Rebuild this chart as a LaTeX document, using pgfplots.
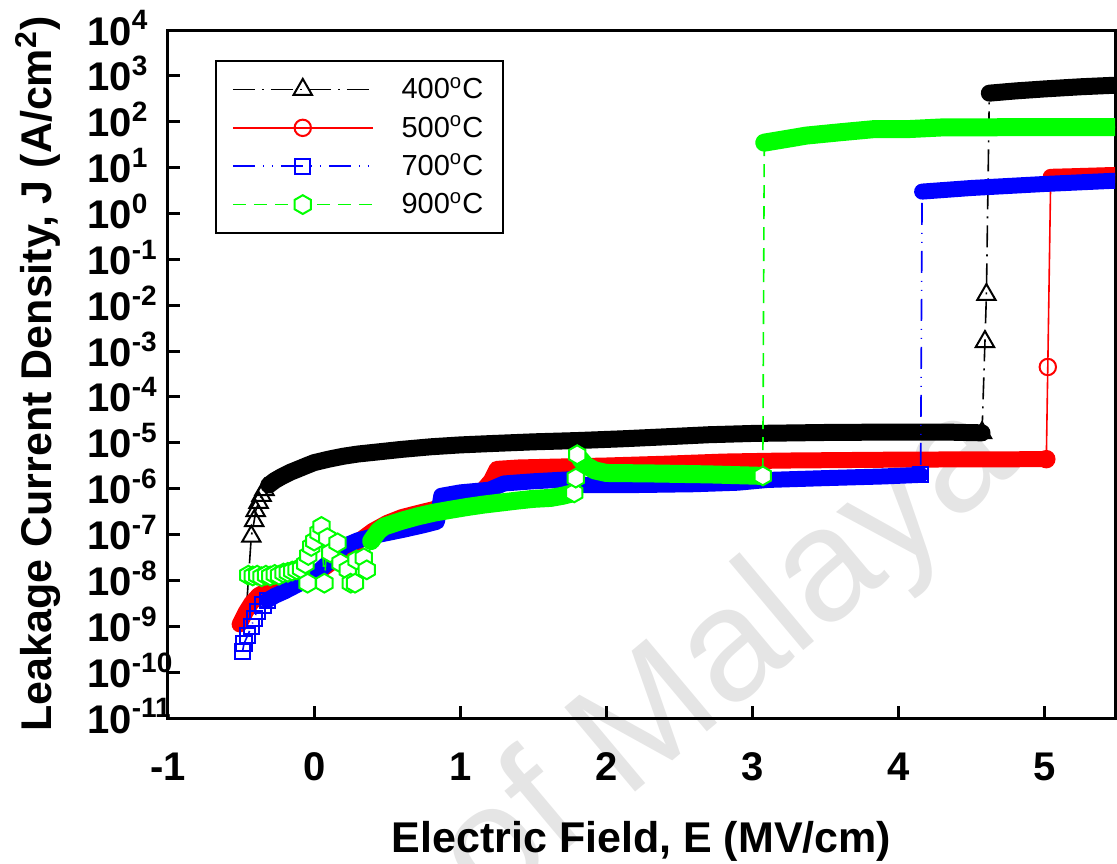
\documentclass[border=0pt]{standalone}
\usepackage{fontspec}
\setmainfont{Liberation Sans}
\usepackage{pgfplots}
\usepackage{pgfplotstable}
\pgfplotsset{compat=1.18}
\usetikzlibrary{plotmarks}

\definecolor{cRed}{HTML}{FF0000}
\definecolor{cBlue}{HTML}{0000FF}
\definecolor{cGreen}{HTML}{00FF00}

% pointy-top hexagon, open
\pgfdeclareplotmark{hexagon}{%
  \pgfpathmoveto{\pgfqpointpolar{90}{\pgfplotmarksize}}%
  \pgfpathlineto{\pgfqpointpolar{150}{\pgfplotmarksize}}%
  \pgfpathlineto{\pgfqpointpolar{210}{\pgfplotmarksize}}%
  \pgfpathlineto{\pgfqpointpolar{270}{\pgfplotmarksize}}%
  \pgfpathlineto{\pgfqpointpolar{330}{\pgfplotmarksize}}%
  \pgfpathlineto{\pgfqpointpolar{30}{\pgfplotmarksize}}%
  \pgfpathclose
  \pgfusepathqfillstroke}

% 400 C
\pgfplotstableread{
x y
-0.46 3.5e-9
-0.43 9.1e-8
-0.41 2.0e-7
-0.40 3.3e-7
-0.38 5.0e-7
-0.36 7.1e-7
-0.34 9.5e-7
-0.31 1.2e-6
-0.27 1.5e-6
-0.22 1.85e-6
-0.16 2.3e-6
-0.10 2.75e-6
-0.05 3.2e-6
0.00 3.7e-6
0.10 4.4e-6
0.20 5.1e-6
0.30 5.7e-6
0.45 6.4e-6
0.60 7.2e-6
0.80 8.2e-6
1.00 9.0e-6
1.20 9.6e-6
1.50 1.05e-5
1.80 1.12e-5
2.10 1.22e-5
2.40 1.35e-5
2.70 1.5e-5
3.00 1.6e-5
3.50 1.68e-5
4.00 1.72e-5
4.30 1.72e-5
4.57 1.65e-5
4.59 1.6e-3
4.60 1.7e-2
4.62 4.2e2
4.80 4.7e2
5.00 5.2e2
5.25 5.8e2
5.55 6.4e2
}\tblack

% 500 C
\pgfplotstableread{
x y
-0.51 1.1e-9
-0.47 2.0e-9
-0.43 3.2e-9
-0.38 4.8e-9
-0.30 6.5e-9
-0.20 8.5e-9
-0.10 1.05e-8
0.00 1.3e-8
0.10 2.2e-8
0.20 4.0e-8
0.30 7.0e-8
0.40 1.2e-7
0.50 1.8e-7
0.60 2.4e-7
0.70 2.9e-7
0.82 3.6e-7
1.00 6.0e-7
1.15 9.0e-7
1.21 1.5e-6
1.25 2.7e-6
1.40 2.9e-6
1.60 3.0e-6
1.80 3.1e-6
2.00 3.2e-6
2.40 3.5e-6
2.80 3.9e-6
3.20 4.1e-6
3.60 4.2e-6
4.00 4.3e-6
4.50 4.35e-6
5.01 4.4e-6
5.02 4.5e-4
5.04 6.3
5.20 6.5
5.40 6.8
5.55 7.0
}\tred

% 700 C
\pgfplotstableread{
x y
-0.49 2.8e-10
-0.48 4.2e-10
-0.455 6.3e-10
-0.43 9.8e-10
-0.41 1.5e-9
-0.39 2.1e-9
-0.35 2.9e-9
-0.32 3.7e-9
-0.27 4.6e-9
-0.20 5.8e-9
-0.10 8.5e-9
0.00 1.3e-8
0.10 2.5e-8
0.20 5.5e-8
0.30 7.5e-8
0.45 1.0e-7
0.60 1.25e-7
0.75 1.6e-7
0.84 1.9e-7
0.87 7.0e-7
1.00 8.3e-7
1.20 9.5e-7
1.30 1.3e-6
1.50 1.45e-6
1.75 1.6e-6
1.85 1.2e-6
2.20 1.2e-6
2.60 1.25e-6
2.90 1.35e-6
3.10 1.55e-6
3.50 1.7e-6
3.90 1.85e-6
4.15 2.0e-6
4.16 3.0
4.50 3.6
5.00 4.4
5.55 5.3
}\tblue

% 900 C
\pgfplotstableread{
x y
-0.45 1.3e-8
-0.42 1.25e-8
-0.39 1.3e-8
-0.36 1.2e-8
-0.33 1.3e-8
-0.30 1.25e-8
-0.27 1.35e-8
-0.24 1.3e-8
-0.21 1.45e-8
-0.18 1.5e-8
-0.15 1.6e-8
-0.12 1.7e-8
-0.09 1.8e-8
-0.06 2.3e-8
-0.045 8.7e-9
-0.04 3.5e-8
-0.02 5.5e-8
0.00 7.2e-8
0.03 1.1e-7
0.05 1.5e-7
0.07 8.7e-9
0.09 8.5e-8
0.11 4.0e-8
0.16 6.6e-8
0.18 2.4e-8
0.23 1.7e-8
0.25 8.7e-9
0.28 8.7e-9
0.29 2.8e-8
0.34 3.1e-8
0.36 1.7e-8
0.39 7.2e-8
0.44 1.2e-7
0.48 1.5e-7
0.60 2.0e-7
0.71 2.5e-7
0.82 3.0e-7
0.94 3.5e-7
1.05 4.0e-7
1.16 4.5e-7
1.28 5.0e-7
1.39 5.5e-7
1.50 6.0e-7
1.62 6.3e-7
1.70 7.0e-7
1.78 8.1e-7
1.79 1.7e-6
1.80 5.5e-6
1.82 4.5e-6
1.86 3.2e-6
1.92 2.5e-6
2.00 2.2e-6
2.30 2.15e-6
2.70 2.05e-6
3.07 1.9e-6
3.08 35
3.37 50
3.60 59
3.83 69
4.06 69
4.29 75
4.74 76
5.20 76
5.55 76
}\tgreen

\begin{document}
\begin{tikzpicture}
\node[anchor=base east, rotate=40, text=black!10, font=\fontsize{80}{80}\selectfont]
  at (429pt,127pt) {of Malaya};
\begin{axis}[
  scale only axis, width=473.5pt, height=344pt,
  ymode=log, log basis y=10,
  xmin=-1, xmax=5.48, ymin=1e-11, ymax=1e4,
  xtick={-1,0,1,2,3,4,5}, xticklabels={-1,0,1,2,3,4,5},
  ytick={1e-11,1e-10,1e-9,1e-8,1e-7,1e-6,1e-5,1e-4,1e-3,1e-2,1e-1,1,1e1,1e2,1e3,1e4},
  yticklabels={10\textsuperscript{-11},10\textsuperscript{-10},10\textsuperscript{-9},10\textsuperscript{-8},10\textsuperscript{-7},10\textsuperscript{-6},10\textsuperscript{-5},10\textsuperscript{-4},10\textsuperscript{-3},10\textsuperscript{-2},10\textsuperscript{-1},10\textsuperscript{0},10\textsuperscript{1},10\textsuperscript{2},10\textsuperscript{3},10\textsuperscript{4}},
  yminorticks=false, xminorticks=false,
  xtick pos=left, ytick pos=left, tick align=inside,
  major tick length=6pt,
  axis line style={line width=1.5pt},
  every tick/.style={black, line width=1.5pt},
  ticklabel style={font=\fontsize{20}{24}\selectfont\bfseries},
  xticklabel style={anchor=base, inner sep=0pt, yshift=-31pt},
  yticklabel style={anchor=base west, inner sep=0pt, xshift=-40.5pt, yshift=-7.5pt},
  label style={font=\fontsize{21.5}{26}\selectfont\bfseries},
  xlabel={Electric Field, E (MV/cm)},
  ylabel={Leakage Current Density, J (A/cm\textsuperscript{2})},
  xlabel style={at={(axis description cs:0.5,-0.196)}, anchor=base},
  ylabel style={at={(axis description cs:-0.1225,0.5)}, anchor=base},
  legend style={at={(rel axis cs:0.0496,0.956)}, anchor=north west, draw=black, line width=1pt,
    font=\fontsize{14.5}{17}\selectfont, row sep=3pt, inner xsep=8pt, inner ysep=6pt,
    /tikz/every odd column/.append style={column sep=12pt}},
  legend cell align=left,
  legend image code/.code={\draw[mark repeat=2,mark phase=2] plot coordinates {(0pt,0pt) (35pt,0pt) (70pt,0pt)};},
]
% ---- 400 C
\addplot[black, line width=0.8pt, dash pattern=on 11pt off 3.5pt on 1pt off 3.5pt, forget plot] table {\tblack};
\addplot[black, only marks, mark=triangle, mark size=5.3pt, mark options={solid, fill=white, line width=1pt}, restrict x to domain=-0.44:-0.335, forget plot] table {\tblack};
\addplot[black, line width=8.5pt, line join=round, line cap=round, restrict x to domain=-0.335:4.575, forget plot] table {\tblack};
\addplot[black, line width=8.5pt, line join=round, line cap=round, restrict x to domain=4.61:5.6, forget plot] table {\tblack};
\addplot[black, only marks, mark=triangle, mark size=5.3pt, mark options={solid, fill=white, line width=1pt}, restrict x to domain=4.565:4.605, forget plot] table {\tblack};
% ---- 500 C
\addplot[cRed, line width=0.8pt, forget plot] table {\tred};
\addplot[cRed, line width=8pt, line join=round, line cap=round, restrict x to domain=-0.52:5.015, forget plot] table {\tred};
\addplot[cRed, line width=8pt, line join=round, line cap=round, restrict x to domain=5.03:5.6, forget plot] table {\tred};
\addplot[cRed, only marks, mark=o, mark size=4.1pt, mark options={solid, fill=white, line width=1pt}, restrict x to domain=5.005:5.025, forget plot] table {\tred};
% ---- 700 C
\addplot[cBlue, line width=0.8pt, dash pattern=on 11pt off 4pt on 0.5pt off 4pt on 0.5pt off 4pt, forget plot] table {\tblue};
\addplot[cBlue, only marks, mark=square, mark size=3.8pt, mark options={solid, fill=white, line width=1pt}, restrict x to domain=-0.5:-0.31, forget plot] table {\tblue};
\addplot[cBlue, line width=8pt, line join=round, line cap=round, restrict x to domain=-0.33:4.155, forget plot] table {\tblue};
\addplot[cBlue, line width=8pt, line join=round, line cap=round, restrict x to domain=4.155:5.6, forget plot] table {\tblue};
\addplot[cBlue, only marks, mark=square, mark size=3.8pt, mark options={solid, fill=white, line width=1pt}, restrict x to domain=4.145:4.155, forget plot] table {\tblue};
% ---- 900 C
\addplot[cGreen, line width=0.8pt, dash pattern=on 6.5pt off 4pt, forget plot] table {\tgreen};
\addplot[cGreen, only marks, mark=hexagon, mark size=4.7pt, mark options={solid, fill=white, line width=1pt}, restrict x to domain=-0.46:0.37, forget plot] table {\tgreen};
\addplot[cGreen, line width=9pt, line join=round, line cap=round, restrict x to domain=0.38:1.785, forget plot] table {\tgreen};
\addplot[cGreen, line width=9pt, line join=round, line cap=round, restrict x to domain=1.805:3.075, forget plot] table {\tgreen};
\addplot[cGreen, line width=9pt, line join=round, line cap=round, restrict x to domain=3.075:5.6, forget plot] table {\tgreen};
\addplot[cGreen, only marks, mark=hexagon, mark size=4.7pt, mark options={solid, fill=white, line width=1pt}, restrict x to domain=1.775:1.805, forget plot] table {\tgreen};
\addplot[cGreen, only marks, mark=hexagon, mark size=4.7pt, mark options={solid, fill=white, line width=1pt}, restrict x to domain=3.065:3.075, forget plot] table {\tgreen};
% ---- legend
\addlegendimage{black, line width=0.8pt, dash pattern=on 11pt off 3.5pt on 1pt off 3.5pt, mark=triangle, mark size=5.3pt, mark options={solid, fill=white, line width=1pt}}
\addlegendentry{400\textsuperscript{o}C}
\addlegendimage{cRed, line width=0.8pt, mark=o, mark size=4.1pt, mark options={solid, fill=white, line width=1pt}}
\addlegendentry{500\textsuperscript{o}C}
\addlegendimage{cBlue, line width=0.8pt, dash pattern=on 11pt off 4pt on 0.5pt off 4pt on 0.5pt off 4pt, mark=square, mark size=3.8pt, mark options={solid, fill=white, line width=1pt}}
\addlegendentry{700\textsuperscript{o}C}
\addlegendimage{cGreen, line width=0.8pt, dash pattern=on 6.5pt off 4pt, mark=hexagon, mark size=4.7pt, mark options={solid, fill=white, line width=1pt}}
\addlegendentry{900\textsuperscript{o}C}
\end{axis}
\pgfresetboundingbox
\path[use as bounding box] (-84pt,-72.5pt) rectangle (474.5pt,359pt);
\end{tikzpicture}
\end{document}
